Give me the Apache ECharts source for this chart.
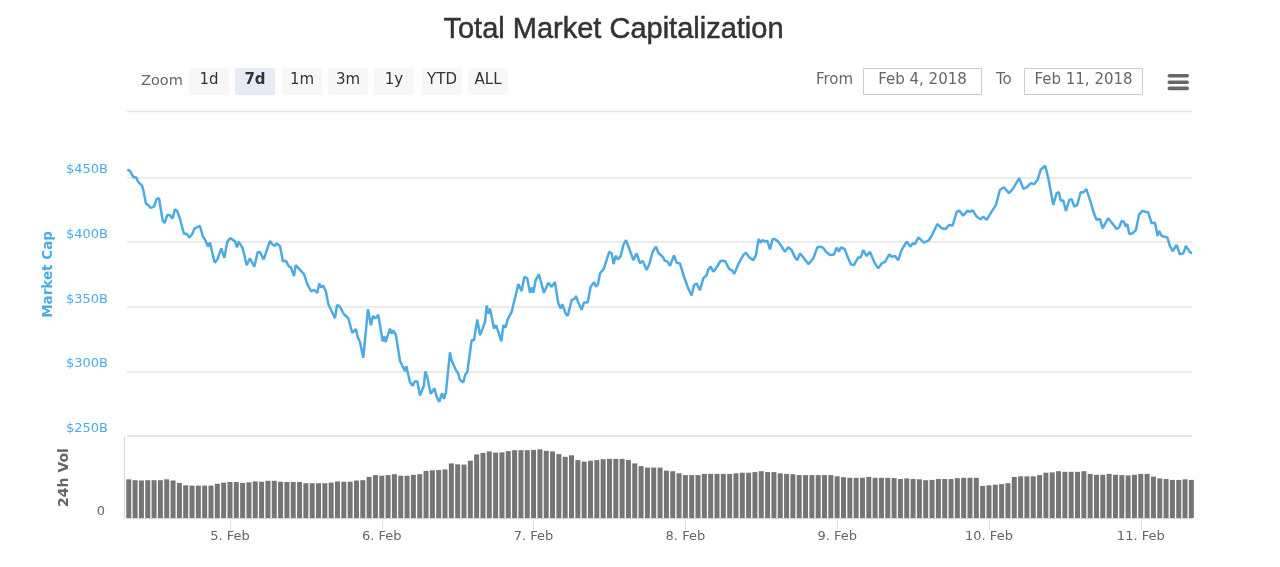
<!DOCTYPE html>
<html>
<head>
<meta charset="utf-8">
<style>html,body{margin:0;padding:0;background:#fff}#main{width:1280px;height:567px}</style>
<script src="https://cdn.jsdelivr.net/npm/echarts@6/dist/echarts.min.js"></script>
</head>
<body>
<div id="main"></div>
<script>
var uiFont = 'DejaVu Sans';
var blue = '#4cace2';
var start = Date.UTC(2018, 1, 4);
var hour = 3600000;

// market cap in $B: [hours since Feb 4 00:00, value]
var capData = [
[7.77,456.0],[8.19,455.2],[8.45,453.9],[8.72,450.3],[9.14,450.3],[9.51,446.4],[10.09,443.8],[10.40,437.9],[10.72,429.6],[11.09,428.8],
[11.46,426.5],[11.99,427.5],[12.41,433.5],[12.78,434.0],[13.04,426.2],[13.36,416.7],[13.67,414.8],[14.09,421.1],[14.36,419.8],[14.52,420.8],
[14.88,418.2],[15.31,425.4],[15.67,423.9],[16.10,417.9],[16.36,417.7],[16.73,406.3],[17.15,406.6],[17.57,403.5],[18.10,406.8],[18.36,410.4],
[18.63,408.9],[19.26,412.5],[19.68,404.8],[20.10,401.7],[20.52,396.5],[20.84,399.6],[21.58,384.1],[22.00,386.6],[22.63,395.2],[22.84,394.7],
[23.11,387.9],[23.58,400.4],[24.05,403.2],[24.79,400.6],[25.11,396.0],[25.37,400.4],[26.00,395.4],[26.64,382.2],[26.95,383.0],[27.16,387.4],
[27.85,381.0],[28.37,392.1],[28.74,392.3],[29.32,386.6],[30.33,400.9],[30.75,398.0],[31.12,397.0],[31.33,399.1],[31.91,397.0],[32.38,385.1],
[32.85,385.6],[33.33,381.0],[33.65,380.4],[34.12,373.7],[34.38,382.2],[34.65,382.2],[35.70,375.3],[36.23,367.5],[36.86,361.8],[37.28,363.1],
[37.81,360.8],[38.12,368.0],[38.44,364.9],[38.76,366.2],[39.18,361.6],[39.55,352.0],[40.60,341.1],[40.92,351.2],[41.29,350.7],[42.02,344.2],
[42.71,341.1],[43.34,329.7],[43.92,332.8],[44.18,326.6],[44.55,322.7],[45.08,310.6],[45.82,348.1],[46.29,335.7],[46.61,342.9],[46.98,340.9],
[47.45,343.7],[47.71,343.4],[48.14,323.3],[48.40,327.1],[48.61,322.7],[49.30,333.1],[49.56,329.2],[49.82,331.8],[50.25,327.9],[50.88,308.0],
[51.67,300.2],[51.88,303.9],[52.46,291.7],[52.88,288.9],[53.20,292.2],[53.62,292.2],[54.04,281.4],[54.25,280.6],[54.67,289.1],[54.88,300.0],
[55.20,295.6],[55.73,282.6],[55.99,282.1],[56.31,286.8],[56.67,280.6],[57.10,276.4],[57.52,283.2],[57.84,278.8],[58.15,283.9],[58.78,314.7],
[59.05,308.5],[59.31,309.5],[59.73,300.8],[60.05,298.7],[60.36,293.5],[60.89,291.4],[61.21,297.6],[61.52,299.5],[62.21,324.0],[62.57,324.0],
[63.10,340.1],[63.53,327.9],[63.95,333.1],[64.32,338.3],[64.58,350.9],[64.84,344.7],[65.11,348.6],[65.74,333.1],[66.06,335.7],[66.43,330.5],
[66.90,323.3],[67.22,335.7],[67.58,333.9],[67.85,339.6],[68.53,346.0],[69.59,367.5],[70.11,362.1],[70.54,373.2],[71.01,371.9],[71.43,360.8],
[71.75,364.9],[71.96,360.8],[72.33,370.6],[72.85,375.0],[73.64,360.8],[74.33,368.5],[74.86,365.4],[75.38,369.3],[75.91,352.5],[76.28,348.6],
[76.54,352.0],[77.07,344.7],[77.39,342.9],[78.02,355.1],[78.55,356.4],[78.70,358.4],[79.07,353.3],[79.60,347.8],[79.97,353.3],[80.55,353.3],
[81.02,365.4],[81.55,369.0],[81.87,365.4],[82.18,367.5],[82.50,375.8],[83.13,379.7],[83.97,392.6],[84.34,391.3],[84.66,383.0],[84.97,389.5],
[85.34,386.6],[85.77,389.2],[86.19,397.8],[86.61,401.6],[87.14,394.7],[87.35,394.4],[87.77,386.1],[88.30,391.3],[88.82,383.5],[89.24,385.6],
[89.88,378.4],[90.30,383.0],[90.82,392.6],[91.35,396.5],[91.72,391.8],[92.40,388.7],[92.77,385.6],[93.14,385.1],[93.57,381.7],[94.20,389.7],
[94.62,384.1],[95.15,383.5],[95.78,373.2],[96.46,364.1],[96.99,358.7],[97.36,366.7],[97.78,368.0],[98.31,362.8],[98.83,371.9],[99.36,374.5],
[99.63,378.9],[100.00,381.0],[100.42,377.1],[100.84,379.7],[101.15,378.4],[101.58,385.6],[102.26,385.4],[102.95,379.1],[103.31,378.4],[103.74,375.5],
[104.37,383.0],[104.63,382.8],[105.16,390.0],[105.58,391.8],[106.11,388.2],[106.74,386.1],[107.16,390.0],[107.58,402.4],[107.90,399.6],[108.22,401.6],
[108.58,400.4],[108.95,401.1],[109.38,394.4],[109.80,402.4],[110.17,402.2],[110.69,400.4],[111.75,392.6],[112.27,396.0],[112.80,393.9],[113.33,388.2],
[113.70,386.1],[114.12,391.3],[114.65,388.2],[114.96,387.4],[115.44,383.0],[116.23,387.4],[116.86,396.0],[117.39,396.5],[117.81,395.4],[118.23,392.6],
[118.44,393.9],[118.86,390.0],[119.49,390.5],[119.91,395.7],[120.28,392.6],[120.60,396.0],[121.18,394.7],[121.76,387.4],[122.18,382.8],[122.65,382.2],
[123.34,388.2],[123.71,388.2],[124.13,393.9],[124.66,389.2],[125.18,392.6],[125.97,383.5],[126.50,379.7],[127.03,383.5],[127.56,384.8],[128.24,390.5],
[128.61,388.7],[129.14,389.2],[129.66,386.1],[130.19,393.9],[130.98,400.4],[131.61,396.5],[131.93,399.1],[132.30,398.5],[132.83,403.7],[133.72,399.6],
[134.41,401.1],[134.93,404.8],[135.83,414.1],[136.51,410.7],[137.15,410.2],[137.73,413.3],[138.25,412.8],[138.89,423.4],[139.31,424.4],[139.94,420.5],
[140.62,424.4],[140.99,423.4],[141.42,424.7],[142.05,419.8],[142.68,417.7],[143.10,419.8],[143.63,417.2],[144.42,423.6],[145.10,428.8],[145.74,440.5],
[146.37,442.5],[147.16,437.9],[147.74,441.0],[148.79,449.5],[149.43,441.2],[149.95,442.3],[150.64,445.6],[151.17,444.9],[151.69,448.2],[152.17,456.0],
[152.48,455.5],[152.90,459.1],[153.38,449.5],[154.17,428.8],[154.70,437.9],[155.06,438.6],[155.33,432.2],[155.75,432.2],[156.17,424.2],[156.70,432.7],
[157.07,433.2],[157.49,427.5],[157.96,428.8],[158.49,438.6],[158.91,438.4],[159.39,441.0],[159.97,432.7],[160.23,432.2],[160.60,422.3],[161.02,417.2],
[161.55,417.9],[161.97,410.7],[162.87,418.5],[163.39,415.1],[164.18,410.2],[164.60,411.5],[164.97,416.4],[165.34,415.6],[165.66,412.0],[165.87,414.1],
[166.18,406.3],[166.71,406.8],[167.24,409.4],[167.71,421.1],[168.24,424.2],[169.19,422.9],[169.72,414.6],[170.24,415.1],[170.66,404.8],[170.93,408.6],
[171.30,404.8],[171.56,405.8],[172.19,403.7],[172.61,397.0],[173.04,393.1],[173.67,397.8],[174.19,390.5],[174.72,391.3],[175.14,397.0],[175.78,392.3],[176.09,391.3]
];

// 24h volume in $B, hourly from Feb 4 08:00
var volData = [
12.9,12.6,12.5,12.6,12.6,12.6,12.9,12.5,11.7,10.9,10.8,10.8,10.8,10.8,11.4,11.8,12.0,12.0,11.7,11.9,
12.2,12.1,12.4,12.4,12.1,12.0,12.0,12.0,11.6,11.6,11.6,11.6,11.8,12.2,12.1,12.1,12.5,12.6,13.7,14.3,
14.1,14.3,14.6,14.1,14.1,14.4,14.6,15.7,15.9,16.0,16.2,18.2,17.9,17.8,19.1,21.2,21.7,22.2,21.8,21.9,
22.3,22.6,22.6,22.6,22.7,22.9,22.4,22.2,21.3,20.4,20.9,19.3,18.8,19.1,19.3,19.6,19.7,19.7,19.7,19.3,
18.2,17.3,16.8,16.8,16.8,15.8,15.6,14.9,14.3,14.3,14.3,14.7,14.7,14.7,14.7,14.7,14.9,15.1,15.1,15.3,
15.6,15.3,15.3,14.9,14.7,14.6,14.3,14.3,14.3,14.3,14.3,14.3,13.9,13.6,13.4,13.4,13.4,13.7,13.4,13.4,
13.4,13.3,13.0,13.2,13.0,12.9,12.6,12.7,13.0,13.0,13.0,13.3,13.4,13.4,13.4,10.7,10.9,11.1,11.3,11.6,
13.7,13.9,13.9,13.9,14.3,15.1,15.2,15.6,15.4,15.4,15.4,15.6,14.7,14.4,14.4,14.7,14.4,14.3,14.2,14.4,
14.7,14.7,13.8,13.2,13.0,12.7,12.7,12.9,12.7
];

function toTime(h) { return start + h * hour; }
var capSeries = capData.map(function (d) { return [toTime(d[0]), d[1]]; });
var volSeries = volData.map(function (v, i) { return [toTime(8 + i), v]; });

var xMin = toTime(7.72), xMax = toTime(176.1);
// echarts widens a bar axis by half a bar on each side, so start it that much inside
var barPad = 0.395;

// range selector buttons and date boxes
var buttons = [
    {t: '1d', x: 189}, {t: '7d', x: 235, on: true}, {t: '1m', x: 282}, {t: '3m', x: 328},
    {t: '1y', x: 374}, {t: 'YTD', x: 422}, {t: 'ALL', x: 468}
];
var gfx = [];
function label(text, x, y, opts) {
    gfx.push({type: 'text', x: x, y: y, silent: true, style: Object.assign({
        text: text, font: '15px ' + uiFont, fill: '#666', textAlign: 'left', textVerticalAlign: 'middle'
    }, opts || {})});
}
label('Zoom', 141, 81, {font: '14.5px ' + uiFont});
buttons.forEach(function (b) {
    gfx.push({type: 'rect', silent: true, shape: {x: b.x, y: 68, width: 40, height: 27, r: 2},
        style: {fill: b.on ? '#e6ebf5' : '#f7f7f7'}});
    label(b.t, b.x + 20, 80, {textAlign: 'center', fill: '#333', font: (b.on ? 'bold ' : '') + '15px ' + uiFont});
});
label('From', 816, 80);
label('To', 996, 80);
[[863.5, 'Feb 4, 2018'], [1024.5, 'Feb 11, 2018']].forEach(function (b) {
    gfx.push({type: 'rect', silent: true, shape: {x: b[0], y: 68.5, width: 118, height: 26},
        style: {fill: '#fff', stroke: '#cccccc', lineWidth: 1}});
    label(b[1], b[0] + 59, 80, {textAlign: 'center'});
});
[75.7, 82.3, 88.4].forEach(function (y) {
    gfx.push({type: 'rect', silent: true, shape: {x: 1167.5, y: y - 1.8, width: 21.5, height: 3.6, r: 1.8}, style: {fill: '#666'}});
});
gfx.push({type: 'line', silent: true, shape: {x1: 127, y1: 111.5, x2: 1192, y2: 111.5}, style: {stroke: '#e6e6e6', lineWidth: 1.5}});
gfx.push({type: 'line', silent: true, shape: {x1: 127, y1: 436, x2: 1192, y2: 436}, style: {stroke: '#e6e6e6', lineWidth: 2}});

var chart = echarts.init(document.getElementById('main'), null, {renderer: 'canvas'});
var option = {
    animation: false,
    useUTC: true,
    backgroundColor: '#fff',
    title: {
        text: 'Total Market Capitalization',
        left: 608.5,
        top: 10,
        textAlign: 'center',
        textStyle: {
            fontFamily: 'Liberation Sans', fontSize: 29, fontWeight: 'normal', color: '#333',
            textBorderColor: '#333', textBorderWidth: 0.5
        }
    },
    graphic: gfx,
    grid: [
        {left: 127, right: 88, top: 112.9, height: 323.1},
        {left: 127, right: 88, top: 437, height: 81}
    ],
    xAxis: [
        {
            type: 'time', gridIndex: 0, min: xMin, max: xMax,
            axisLine: {show: false}, axisTick: {show: false}, axisLabel: {show: false}, splitLine: {show: false}
        },
        {
            type: 'time', gridIndex: 1, min: toTime(7.72 + barPad), max: toTime(176.1 - barPad),
            minInterval: 24 * hour, maxInterval: 24 * hour,
            axisLine: {lineStyle: {color: '#ccd6eb', width: 1}},
            axisTick: {length: 12, lineStyle: {color: '#d8dfee'}},
            splitLine: {show: false},
            axisLabel: {
                color: '#666', fontFamily: uiFont, fontSize: 13, margin: 12,
                showMinLabel: false, showMaxLabel: false,
                formatter: function (v) { return new Date(v).getUTCDate() + '. Feb'; }
            }
        }
    ],
    yAxis: [
        {
            type: 'value', gridIndex: 0, min: 250, max: 500, interval: 50,
            name: 'Market Cap', nameLocation: 'middle', nameGap: 71, nameRotate: 90,
            nameTextStyle: {color: blue, fontFamily: uiFont, fontSize: 13.5, fontWeight: 'bold'},
            axisLine: {show: false}, axisTick: {show: false},
            splitLine: {showMaxLine: false, lineStyle: {color: '#e6e6e6', width: 1.5}},
            axisLabel: {
                color: blue, fontFamily: uiFont, fontSize: 13, margin: 19, verticalAlign: 'bottom',
                padding: [0, 0, 1, 0],
                formatter: function (v) { return v === 500 ? '' : '$' + v + 'B'; }
            }
        },
        {
            type: 'value', gridIndex: 1, min: 0, max: 27, interval: 27, offset: 3,
            name: '24h Vol', nameLocation: 'middle', nameGap: 53, nameRotate: 90,
            nameTextStyle: {color: '#666', fontFamily: uiFont, fontSize: 14, fontWeight: 'bold'},
            axisLine: {show: true, lineStyle: {color: '#ccd6eb', width: 1}},
            axisTick: {show: false}, splitLine: {show: false},
            axisLabel: {
                color: '#666', fontFamily: uiFont, fontSize: 13, margin: 19, verticalAlign: 'bottom',
                formatter: function (v) { return v === 0 ? '0' : ''; }
            }
        }
    ],
    series: [
        {
            name: 'Market Cap', type: 'line', xAxisIndex: 0, yAxisIndex: 0, data: capSeries,
            showSymbol: false, symbol: 'none', lineStyle: {color: blue, width: 2.5}, z: 5
        },
        {
            name: '24h Vol', type: 'bar', xAxisIndex: 1, yAxisIndex: 1, data: volSeries,
            barWidth: 5, clip: true, itemStyle: {color: '#757575'}
        }
    ]
};
chart.setOption(option);
</script>
</body>
</html>
